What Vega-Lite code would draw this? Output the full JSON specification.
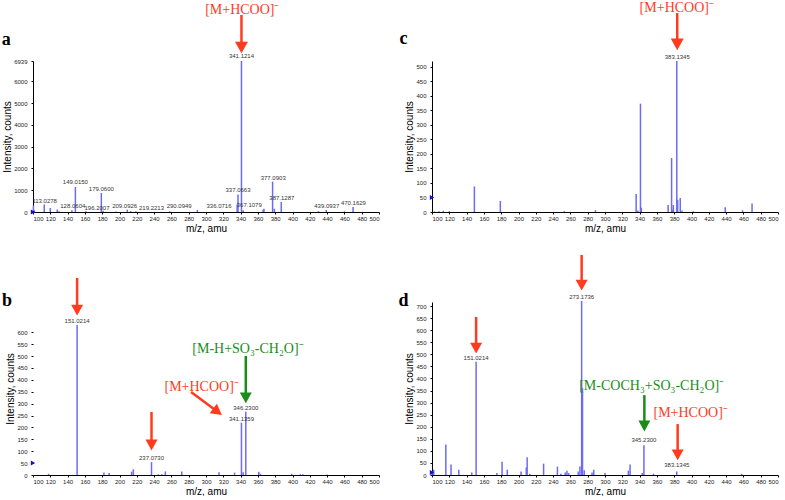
{
  "$schema": "https://vega.github.io/schema/vega-lite/v6.json",
  "background": "white",
  "padding": {"left": 1, "top": 0, "right": 2, "bottom": 0},
  "bounds": "flush",
  "columns": 2,
  "spacing": {"row": 90, "column": 53},
  "config": {
    "view": {"stroke": null},
    "axis": {"labelFont": "Liberation Sans", "labelFontSize": 6, "labelColor": "#222", "titleFont": "Liberation Sans", "titleFontSize": 10, "titleFontWeight": "normal", "titleColor": "#000", "domainColor": "#000", "tickColor": "#000", "tickSize": 2, "grid": false, "labelOverlap": false},
    "axisX": {"titlePadding": 2, "labelPadding": 1},
    "axisY": {"titlePadding": 1, "labelPadding": 4, "format": "d"}
  },
  "datasets": {
    "peaks": [
      {"p": "a", "mz": 100.5, "i": 300}, {"p": "a", "mz": 101.5, "i": 80}, {"p": "a", "mz": 113, "i": 340}, {"p": "a", "mz": 120, "i": 185}, {"p": "a", "mz": 128, "i": 110}, {"p": "a", "mz": 130, "i": 40}, {"p": "a", "mz": 145, "i": 77}, {"p": "a", "mz": 149, "i": 1150}, {"p": "a", "mz": 161, "i": 40}, {"p": "a", "mz": 179, "i": 875}, {"p": "a", "mz": 181, "i": 60}, {"p": "a", "mz": 196, "i": 20}, {"p": "a", "mz": 209, "i": 105}, {"p": "a", "mz": 213, "i": 40}, {"p": "a", "mz": 219, "i": 30}, {"p": "a", "mz": 258, "i": 30}, {"p": "a", "mz": 290, "i": 90}, {"p": "a", "mz": 336, "i": 350}, {"p": "a", "mz": 337, "i": 800}, {"p": "a", "mz": 341, "i": 6939}, {"p": "a", "mz": 343, "i": 80}, {"p": "a", "mz": 366, "i": 100}, {"p": "a", "mz": 367, "i": 150}, {"p": "a", "mz": 377, "i": 1397}, {"p": "a", "mz": 379, "i": 150}, {"p": "a", "mz": 387, "i": 460}, {"p": "a", "mz": 430, "i": 40}, {"p": "a", "mz": 439, "i": 90}, {"p": "a", "mz": 460, "i": 30}, {"p": "a", "mz": 470, "i": 230},
      {"p": "b", "mz": 118, "i": 5}, {"p": "b", "mz": 151, "i": 630}, {"p": "b", "mz": 182, "i": 10}, {"p": "b", "mz": 188, "i": 8}, {"p": "b", "mz": 214, "i": 14}, {"p": "b", "mz": 216, "i": 24}, {"p": "b", "mz": 237, "i": 54}, {"p": "b", "mz": 245, "i": 3}, {"p": "b", "mz": 249, "i": 3}, {"p": "b", "mz": 253, "i": 15}, {"p": "b", "mz": 272, "i": 15}, {"p": "b", "mz": 315, "i": 12}, {"p": "b", "mz": 333, "i": 10}, {"p": "b", "mz": 341, "i": 220}, {"p": "b", "mz": 343, "i": 12}, {"p": "b", "mz": 346, "i": 266}, {"p": "b", "mz": 361, "i": 14}, {"p": "b", "mz": 363, "i": 5}, {"p": "b", "mz": 399, "i": 5}, {"p": "b", "mz": 409, "i": 3}, {"p": "b", "mz": 412, "i": 3}, {"p": "b", "mz": 440, "i": 2},
      {"p": "c", "mz": 103, "i": 2}, {"p": "c", "mz": 108, "i": 3}, {"p": "c", "mz": 113, "i": 4}, {"p": "c", "mz": 120, "i": 3}, {"p": "c", "mz": 149, "i": 88}, {"p": "c", "mz": 179, "i": 38}, {"p": "c", "mz": 253, "i": 3}, {"p": "c", "mz": 289, "i": 6}, {"p": "c", "mz": 336, "i": 62}, {"p": "c", "mz": 338, "i": 5}, {"p": "c", "mz": 341, "i": 373}, {"p": "c", "mz": 342, "i": 15}, {"p": "c", "mz": 373, "i": 24}, {"p": "c", "mz": 377, "i": 186}, {"p": "c", "mz": 378, "i": 8}, {"p": "c", "mz": 379, "i": 24}, {"p": "c", "mz": 383, "i": 520}, {"p": "c", "mz": 384, "i": 42}, {"p": "c", "mz": 387, "i": 48}, {"p": "c", "mz": 389, "i": 5}, {"p": "c", "mz": 402, "i": 3}, {"p": "c", "mz": 439, "i": 16}, {"p": "c", "mz": 459, "i": 6}, {"p": "c", "mz": 470, "i": 29},
      {"p": "d", "mz": 100, "i": 15}, {"p": "d", "mz": 102, "i": 22}, {"p": "d", "mz": 116, "i": 126}, {"p": "d", "mz": 122, "i": 44}, {"p": "d", "mz": 131, "i": 22}, {"p": "d", "mz": 146, "i": 10}, {"p": "d", "mz": 151, "i": 469}, {"p": "d", "mz": 175, "i": 8}, {"p": "d", "mz": 181, "i": 55}, {"p": "d", "mz": 187, "i": 22}, {"p": "d", "mz": 203, "i": 14}, {"p": "d", "mz": 209, "i": 31}, {"p": "d", "mz": 210, "i": 74}, {"p": "d", "mz": 213, "i": 5}, {"p": "d", "mz": 229, "i": 47}, {"p": "d", "mz": 245, "i": 35}, {"p": "d", "mz": 249, "i": 5}, {"p": "d", "mz": 254, "i": 10}, {"p": "d", "mz": 256, "i": 18}, {"p": "d", "mz": 258, "i": 8}, {"p": "d", "mz": 269, "i": 14}, {"p": "d", "mz": 271, "i": 35}, {"p": "d", "mz": 273, "i": 721}, {"p": "d", "mz": 274, "i": 360}, {"p": "d", "mz": 276, "i": 20}, {"p": "d", "mz": 285, "i": 10}, {"p": "d", "mz": 287, "i": 22}, {"p": "d", "mz": 300, "i": 8}, {"p": "d", "mz": 327, "i": 18}, {"p": "d", "mz": 329, "i": 44}, {"p": "d", "mz": 343, "i": 8}, {"p": "d", "mz": 345, "i": 123}, {"p": "d", "mz": 356, "i": 5}, {"p": "d", "mz": 383, "i": 15}, {"p": "d", "mz": 458, "i": 5}
    ],
    "labels": [
      {"p": "a", "t": "113.0278", "mz": 113.5, "i": 507}, {"p": "a", "t": "128.0604", "mz": 146, "i": 276}, {"p": "a", "t": "149.0150", "mz": 149, "i": 1366}, {"p": "a", "t": "179.0600", "mz": 179, "i": 1059}, {"p": "a", "t": "196.2007", "mz": 174, "i": 169}, {"p": "a", "t": "209.0926", "mz": 206, "i": 276}, {"p": "a", "t": "219.2213", "mz": 237, "i": 169}, {"p": "a", "t": "290.0949", "mz": 269, "i": 276}, {"p": "a", "t": "336.0716", "mz": 315, "i": 276}, {"p": "a", "t": "337.0663", "mz": 337, "i": 998}, {"p": "a", "t": "341.1214", "mz": 341, "i": 7153}, {"p": "a", "t": "367.1079", "mz": 350, "i": 307}, {"p": "a", "t": "377.0903", "mz": 377.7, "i": 1566}, {"p": "a", "t": "387.1287", "mz": 387.7, "i": 645}, {"p": "a", "t": "439.0937", "mz": 439.6, "i": 261}, {"p": "a", "t": "470.1629", "mz": 470.4, "i": 430},
      {"p": "b", "t": "151.0214", "mz": 151, "i": 648}, {"p": "b", "t": "237.0730", "mz": 237, "i": 72}, {"p": "b", "t": "341.1359", "mz": 341, "i": 237}, {"p": "b", "t": "346.2300", "mz": 346, "i": 283},
      {"p": "c", "t": "383.1345", "mz": 383.5, "i": 533},
      {"p": "d", "t": "273.1736", "mz": 273, "i": 738}, {"p": "d", "t": "151.0214", "mz": 151, "i": 483}, {"p": "d", "t": "345.2300", "mz": 345, "i": 147}, {"p": "d", "t": "383.1345", "mz": 383, "i": 40}
    ],
    "arrows": [
      {"p": "a", "mz": 341, "i": 9053, "mz2": 341, "i2": 7559, "ang": 0, "ion": "product"},
      {"p": "b", "mz": 151, "i": 828, "mz2": 151, "i2": 693, "ang": 0, "ion": "product"},
      {"p": "b", "mz": 237, "i": 265, "mz2": 237, "i2": 126, "ang": 0, "ion": "product"},
      {"p": "b", "mz": 346, "i": 500, "mz2": 346, "i2": 324, "ang": 0, "ion": "sulfate"},
      {"p": "b", "mz": 282.7, "i": 349, "mz2": 313.4, "i2": 266, "ang": 306.6, "ion": "product"},
      {"p": "c", "mz": 383.5, "i": 685, "mz2": 383.5, "i2": 577, "ang": 0, "ion": "product"},
      {"p": "d", "mz": 273, "i": 912, "mz2": 273, "i2": 787, "ang": 0, "ion": "product"},
      {"p": "d", "mz": 151, "i": 655, "mz2": 151, "i2": 526, "ang": 0, "ion": "product"},
      {"p": "d", "mz": 345.5, "i": 331, "mz2": 345.5, "i2": 203, "ang": 0, "ion": "sulfate"},
      {"p": "d", "mz": 384, "i": 211, "mz2": 384, "i2": 83, "ang": 0, "ion": "product"}
    ],
    "notes": [
      {"p": "a", "t": "[M+HCOO]⁻", "mz": 342, "i": 9305, "ion": "product"},
      {"p": "b", "t": "[M+HCOO]⁻", "mz": 295, "i": 370, "ion": "product"},
      {"p": "b", "t": "[M-H+SO₃-CH₂O]⁻", "mz": 348.5, "i": 530, "ion": "sulfate"},
      {"p": "c", "t": "[M+HCOO]⁻", "mz": 383, "i": 704, "ion": "product"},
      {"p": "d", "t": "[M-COCH₃+SO₃-CH₂O]⁻", "mz": 354, "i": 367, "ion": "sulfate"},
      {"p": "d", "t": "[M+HCOO]⁻", "mz": 399, "i": 255, "ion": "product"}
    ],
    "letters": [
      {"p": "a", "t": "a", "mz": 69, "i": 7904},
      {"p": "b", "t": "b", "mz": 70, "i": 731},
      {"p": "c", "t": "c", "mz": 67, "i": 596},
      {"p": "d", "t": "d", "mz": 67, "i": 721}
    ],
    "markers": [
      {"p": "a", "mz": 100, "i": 0},
      {"p": "b", "mz": 100, "i": 50},
      {"p": "c", "mz": 100, "i": 50},
      {"p": "d", "mz": 100, "i": 10}
    ]
  },
  "concat": [
    {
      "width": 346, "height": 151,
      "encoding": {
        "x": {"field": "mz", "type": "quantitative", "scale": {"domain": [100, 500], "nice": false, "zero": false}, "axis": {"values": [100,120,140,160,180,200,220,240,260,280,300,320,340,360,380,400,420,440,460,480,500], "title": "m/z, amu"}},
        "y": {"field": "i", "type": "quantitative", "scale": {"domain": [0, 6939], "nice": false}, "axis": {"values": [0,1000,2000,3000,4000,5000,6000,6939], "title": "Intensity, counts"}}
      },
      "layer": [
        {"data": {"name": "peaks"}, "transform": [{"filter": "datum.p==='a'"}], "mark": {"type": "rule", "color": "#6b6bf5", "strokeWidth": 1.5}, "encoding": {"y2": {"datum": 0}}},
        {"data": {"name": "markers"}, "transform": [{"filter": "datum.p==='a'"}], "mark": {"type": "point", "shape": "triangle-right", "filled": true, "size": 25, "color": "#1010d0", "opacity": 1}},
        {"data": {"name": "labels"}, "transform": [{"filter": "datum.p==='a'"}], "mark": {"type": "text", "font": "Liberation Sans", "fontSize": 6, "color": "#333", "baseline": "middle"}, "encoding": {"text": {"field": "t"}}},
        {"data": {"name": "arrows"}, "transform": [{"filter": "datum.p==='a'"}], "mark": {"type": "rule", "strokeWidth": 2.5}, "encoding": {"x2": {"field": "mz2"}, "y2": {"field": "i2"}, "color": {"field": "ion", "type": "nominal", "scale": {"domain": ["product", "sulfate"], "range": ["#ff3b1f", "#1a8c1a"]}, "legend": null}}},
        {"data": {"name": "arrows"}, "transform": [{"filter": "datum.p==='a'"}], "mark": {"type": "point", "shape": "M-1,-0.9L1,-0.9L0,0.9Z", "filled": true, "size": 169, "opacity": 1}, "encoding": {"x": {"field": "mz2", "type": "quantitative"}, "y": {"field": "i2", "type": "quantitative"}, "angle": {"field": "ang", "type": "quantitative", "scale": null}, "color": {"field": "ion", "type": "nominal", "scale": {"domain": ["product", "sulfate"], "range": ["#ff3b1f", "#1a8c1a"]}, "legend": null}}},
        {"data": {"name": "notes"}, "transform": [{"filter": "datum.p==='a'"}], "mark": {"type": "text", "font": "Liberation Serif", "fontSize": 14, "baseline": "middle"}, "encoding": {"text": {"field": "t"}, "color": {"field": "ion", "type": "nominal", "scale": {"domain": ["product", "sulfate"], "range": ["#ff3b1f", "#1a8c1a"]}, "legend": null}}},
        {"data": {"name": "letters"}, "transform": [{"filter": "datum.p==='a'"}], "mark": {"type": "text", "font": "Liberation Serif", "fontSize": 18, "fontWeight": "bold", "color": "#000", "baseline": "middle"}, "encoding": {"text": {"field": "t"}}}
      ]
    },
    {
      "width": 346, "height": 151,
      "encoding": {
        "x": {"field": "mz", "type": "quantitative", "scale": {"domain": [100, 500], "nice": false, "zero": false}, "axis": {"values": [100,120,140,160,180,200,220,240,260,280,300,320,340,360,380,400,420,440,460,480,500], "title": "m/z, amu"}},
        "y": {"field": "i", "type": "quantitative", "scale": {"domain": [0, 520], "nice": false}, "axis": {"values": [0,50,100,150,200,250,300,350,400,450,500], "title": "Intensity, counts"}}
      },
      "layer": [
        {"data": {"name": "peaks"}, "transform": [{"filter": "datum.p==='c'"}], "mark": {"type": "rule", "color": "#6b6bf5", "strokeWidth": 1.5}, "encoding": {"y2": {"datum": 0}}},
        {"data": {"name": "markers"}, "transform": [{"filter": "datum.p==='c'"}], "mark": {"type": "point", "shape": "triangle-right", "filled": true, "size": 25, "color": "#1010d0", "opacity": 1}},
        {"data": {"name": "labels"}, "transform": [{"filter": "datum.p==='c'"}], "mark": {"type": "text", "font": "Liberation Sans", "fontSize": 6, "color": "#333", "baseline": "middle"}, "encoding": {"text": {"field": "t"}}},
        {"data": {"name": "arrows"}, "transform": [{"filter": "datum.p==='c'"}], "mark": {"type": "rule", "strokeWidth": 2.5}, "encoding": {"x2": {"field": "mz2"}, "y2": {"field": "i2"}, "color": {"field": "ion", "type": "nominal", "scale": {"domain": ["product", "sulfate"], "range": ["#ff3b1f", "#1a8c1a"]}, "legend": null}}},
        {"data": {"name": "arrows"}, "transform": [{"filter": "datum.p==='c'"}], "mark": {"type": "point", "shape": "M-1,-0.9L1,-0.9L0,0.9Z", "filled": true, "size": 169, "opacity": 1}, "encoding": {"x": {"field": "mz2", "type": "quantitative"}, "y": {"field": "i2", "type": "quantitative"}, "angle": {"field": "ang", "type": "quantitative", "scale": null}, "color": {"field": "ion", "type": "nominal", "scale": {"domain": ["product", "sulfate"], "range": ["#ff3b1f", "#1a8c1a"]}, "legend": null}}},
        {"data": {"name": "notes"}, "transform": [{"filter": "datum.p==='c'"}], "mark": {"type": "text", "font": "Liberation Serif", "fontSize": 14, "baseline": "middle"}, "encoding": {"text": {"field": "t"}, "color": {"field": "ion", "type": "nominal", "scale": {"domain": ["product", "sulfate"], "range": ["#ff3b1f", "#1a8c1a"]}, "legend": null}}},
        {"data": {"name": "letters"}, "transform": [{"filter": "datum.p==='c'"}], "mark": {"type": "text", "font": "Liberation Serif", "fontSize": 18, "fontWeight": "bold", "color": "#000", "baseline": "middle"}, "encoding": {"text": {"field": "t"}}}
      ]
    },
    {
      "width": 346, "height": 173,
      "encoding": {
        "x": {"field": "mz", "type": "quantitative", "scale": {"domain": [100, 500], "nice": false, "zero": false}, "axis": {"values": [100,120,140,160,180,200,220,240,260,280,300,320,340,360,380,400,420,440,460,480,500], "title": "m/z, amu"}},
        "y": {"field": "i", "type": "quantitative", "scale": {"domain": [0, 727], "nice": false}, "axis": {"values": [0,50,100,150,200,250,300,350,400,450,500,550,600], "title": "Intensity, counts", "domain": false}}
      },
      "layer": [
        {"mark": {"type": "rule", "color": "#000", "strokeWidth": 1}, "encoding": {"x": {"datum": 100}, "y": {"datum": 0}, "y2": {"datum": 630}}},
        {"data": {"name": "peaks"}, "transform": [{"filter": "datum.p==='b'"}], "mark": {"type": "rule", "color": "#6b6bf5", "strokeWidth": 1.5}, "encoding": {"y2": {"datum": 0}}},
        {"data": {"name": "markers"}, "transform": [{"filter": "datum.p==='b'"}], "mark": {"type": "point", "shape": "triangle-right", "filled": true, "size": 25, "color": "#1010d0", "opacity": 1}},
        {"data": {"name": "labels"}, "transform": [{"filter": "datum.p==='b'"}], "mark": {"type": "text", "font": "Liberation Sans", "fontSize": 6, "color": "#333", "baseline": "middle"}, "encoding": {"text": {"field": "t"}}},
        {"data": {"name": "arrows"}, "transform": [{"filter": "datum.p==='b'"}], "mark": {"type": "rule", "strokeWidth": 2.5}, "encoding": {"x2": {"field": "mz2"}, "y2": {"field": "i2"}, "color": {"field": "ion", "type": "nominal", "scale": {"domain": ["product", "sulfate"], "range": ["#ff3b1f", "#1a8c1a"]}, "legend": null}}},
        {"data": {"name": "arrows"}, "transform": [{"filter": "datum.p==='b'"}], "mark": {"type": "point", "shape": "M-1,-0.9L1,-0.9L0,0.9Z", "filled": true, "size": 144, "opacity": 1}, "encoding": {"x": {"field": "mz2", "type": "quantitative"}, "y": {"field": "i2", "type": "quantitative"}, "angle": {"field": "ang", "type": "quantitative", "scale": null}, "color": {"field": "ion", "type": "nominal", "scale": {"domain": ["product", "sulfate"], "range": ["#ff3b1f", "#1a8c1a"]}, "legend": null}}},
        {"data": {"name": "notes"}, "transform": [{"filter": "datum.p==='b'"}], "mark": {"type": "text", "font": "Liberation Serif", "fontSize": 14, "baseline": "middle"}, "encoding": {"text": {"field": "t"}, "color": {"field": "ion", "type": "nominal", "scale": {"domain": ["product", "sulfate"], "range": ["#ff3b1f", "#1a8c1a"]}, "legend": null}}},
        {"data": {"name": "letters"}, "transform": [{"filter": "datum.p==='b'"}], "mark": {"type": "text", "font": "Liberation Serif", "fontSize": 18, "fontWeight": "bold", "color": "#000", "baseline": "middle"}, "encoding": {"text": {"field": "t"}}}
      ]
    },
    {
      "width": 346, "height": 173,
      "encoding": {
        "x": {"field": "mz", "type": "quantitative", "scale": {"domain": [100, 500], "nice": false, "zero": false}, "axis": {"values": [100,120,140,160,180,200,220,240,260,280,300,320,340,360,380,400,420,440,460,480,500], "title": "m/z, amu"}},
        "y": {"field": "i", "type": "quantitative", "scale": {"domain": [0, 717], "nice": false}, "axis": {"values": [0,50,100,150,200,250,300,350,400,450,500,550,600,650,700], "title": "Intensity, counts"}}
      },
      "layer": [
        {"data": {"name": "peaks"}, "transform": [{"filter": "datum.p==='d'"}], "mark": {"type": "rule", "color": "#6b6bf5", "strokeWidth": 1.5}, "encoding": {"y2": {"datum": 0}}},
        {"data": {"name": "markers"}, "transform": [{"filter": "datum.p==='d'"}], "mark": {"type": "point", "shape": "triangle-right", "filled": true, "size": 25, "color": "#1010d0", "opacity": 1}},
        {"data": {"name": "labels"}, "transform": [{"filter": "datum.p==='d'"}], "mark": {"type": "text", "font": "Liberation Sans", "fontSize": 6, "color": "#333", "baseline": "middle"}, "encoding": {"text": {"field": "t"}}},
        {"data": {"name": "arrows"}, "transform": [{"filter": "datum.p==='d'"}], "mark": {"type": "rule", "strokeWidth": 2.5}, "encoding": {"x2": {"field": "mz2"}, "y2": {"field": "i2"}, "color": {"field": "ion", "type": "nominal", "scale": {"domain": ["product", "sulfate"], "range": ["#ff3b1f", "#1a8c1a"]}, "legend": null}}},
        {"data": {"name": "arrows"}, "transform": [{"filter": "datum.p==='d'"}], "mark": {"type": "point", "shape": "M-1,-0.9L1,-0.9L0,0.9Z", "filled": true, "size": 144, "opacity": 1}, "encoding": {"x": {"field": "mz2", "type": "quantitative"}, "y": {"field": "i2", "type": "quantitative"}, "angle": {"field": "ang", "type": "quantitative", "scale": null}, "color": {"field": "ion", "type": "nominal", "scale": {"domain": ["product", "sulfate"], "range": ["#ff3b1f", "#1a8c1a"]}, "legend": null}}},
        {"data": {"name": "notes"}, "transform": [{"filter": "datum.p==='d'"}], "mark": {"type": "text", "font": "Liberation Serif", "fontSize": 14, "baseline": "middle"}, "encoding": {"text": {"field": "t"}, "color": {"field": "ion", "type": "nominal", "scale": {"domain": ["product", "sulfate"], "range": ["#ff3b1f", "#1a8c1a"]}, "legend": null}}},
        {"data": {"name": "letters"}, "transform": [{"filter": "datum.p==='d'"}], "mark": {"type": "text", "font": "Liberation Serif", "fontSize": 18, "fontWeight": "bold", "color": "#000", "baseline": "middle"}, "encoding": {"text": {"field": "t"}}}
      ]
    }
  ]
}
